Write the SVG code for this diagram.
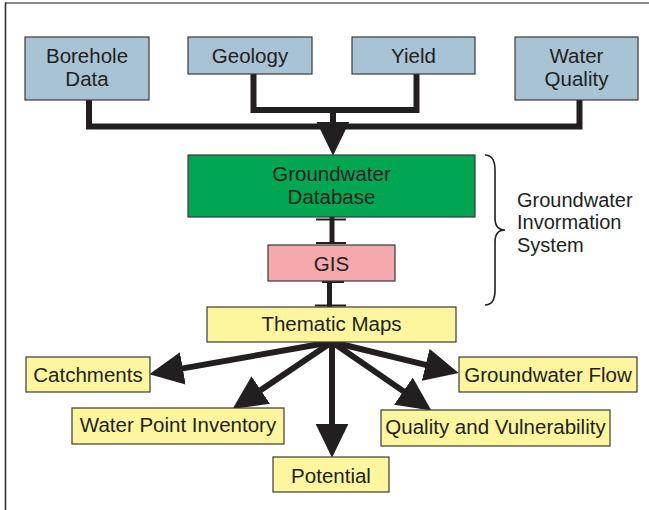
<svg xmlns="http://www.w3.org/2000/svg" width="649" height="510" viewBox="0 0 649 510">
<style>
.box{stroke:#3a3a3a;stroke-width:1.2}
.blue{fill:#a7c3d4}
.green{fill:#00a651}
.pink{fill:#f5a9ac}
.yellow{fill:#fdf69c}
text{font-family:"Liberation Sans",Arial,sans-serif;font-size:20.5px;fill:#231f20;text-anchor:middle}
.lbl{text-anchor:start;font-size:20px}
.thick{fill:none;stroke:#231f20;stroke-width:6;stroke-linejoin:miter;stroke-linecap:butt}
.mid{fill:none;stroke:#231f20;stroke-width:5}
.cap{fill:none;stroke:#231f20;stroke-width:2}
.arrow{marker-end:url(#head)}
</style>
<defs>
<marker id="head" markerUnits="userSpaceOnUse" markerWidth="34" markerHeight="34" viewBox="0 -16 32 32" refX="4" refY="0" orient="auto">
<path d="M0,-15.5 L32,0 L0,15.5 Z" fill="#231f20"/>
</marker>
</defs>
<rect width="649" height="510" fill="#ffffff"/>
<g id="frame">
<line x1="5" y1="3" x2="649" y2="3" stroke="#666" stroke-width="1.3"/>
<line x1="5.5" y1="2.5" x2="5.5" y2="510" stroke="#333" stroke-width="1.6"/>
</g>
<g id="connectors">
<path class="thick" d="M89,100 V126.5 H579.5 V100"/>
<path class="thick" d="M253.5,74 V110 H416.5 V74"/>
<path class="thick arrow" d="M333,110 V126"/>
<path class="mid" d="M332,217 V244"/>
<line class="cap" x1="316" y1="219.5" x2="346" y2="219.5"/>
<line class="cap" x1="316" y1="243" x2="346" y2="243"/>
<path class="mid" d="M329.5,281 V307"/>
<line class="cap" x1="322" y1="282" x2="344" y2="282"/>
<line class="cap" x1="315" y1="305.5" x2="346" y2="305.5"/>
<path class="thick arrow" d="M332,342 L178.6,369.1"/>
<path class="thick arrow" d="M332,342 L257.2,392.4"/>
<path class="thick arrow" d="M332,342 L332,428"/>
<path class="thick arrow" d="M332,342 L406.9,393.6"/>
<path class="thick arrow" d="M332,342 L429.8,365.9"/>
</g>
<g id="borehole">
<rect class="box blue" x="25" y="37" width="124" height="63"/>
<text x="87" y="63">Borehole</text>
<text x="87" y="86">Data</text>
</g>
<g id="geology">
<rect class="box blue" x="188" y="37" width="124" height="37"/>
<text x="250" y="63">Geology</text>
</g>
<g id="yield">
<rect class="box blue" x="352" y="37" width="123" height="37"/>
<text x="413.5" y="63">Yield</text>
</g>
<g id="water-quality">
<rect class="box blue" x="515" y="37" width="123" height="63"/>
<text x="576.5" y="63">Water</text>
<text x="576.5" y="86">Quality</text>
</g>
<g id="database">
<rect class="box green" x="188" y="155" width="287" height="62"/>
<text x="331.5" y="181">Groundwater</text>
<text x="331.5" y="204">Database</text>
</g>
<g id="gis">
<rect class="box pink" x="268" y="245" width="127" height="36"/>
<text x="331.5" y="271">GIS</text>
</g>
<g id="gis-system">
<path d="M485,155 C492,155 495,160 495,170 L495,218 C495,226 499,230 505,230 C499,230 495,234 495,242 L495,290 C495,300 492,305 485,305" fill="none" stroke="#231f20" stroke-width="1.6"/>
<text class="lbl" x="517" y="207">Groundwater</text>
<text class="lbl" x="517" y="229">Invormation</text>
<text class="lbl" x="517" y="252">System</text>
</g>
<g id="thematic">
<rect class="box yellow" x="207" y="307" width="249" height="35"/>
<text x="331.5" y="330.5">Thematic Maps</text>
</g>
<g id="catchments">
<rect class="box yellow" x="26" y="357" width="124" height="35"/>
<text x="88" y="382">Catchments</text>
</g>
<g id="groundwater-flow">
<rect class="box yellow" x="459" y="357" width="178" height="35"/>
<text x="548" y="382">Groundwater Flow</text>
</g>
<g id="water-point">
<rect class="box yellow" x="72" y="408" width="212" height="36"/>
<text x="178" y="432">Water Point Inventory</text>
</g>
<g id="quality">
<rect class="box yellow" x="381" y="410" width="229" height="36"/>
<text x="495.5" y="433.5">Quality and Vulnerability</text>
</g>
<g id="potential">
<rect class="box yellow" x="273" y="457" width="116" height="35"/>
<text x="331" y="483">Potential</text>
</g>
</svg>
